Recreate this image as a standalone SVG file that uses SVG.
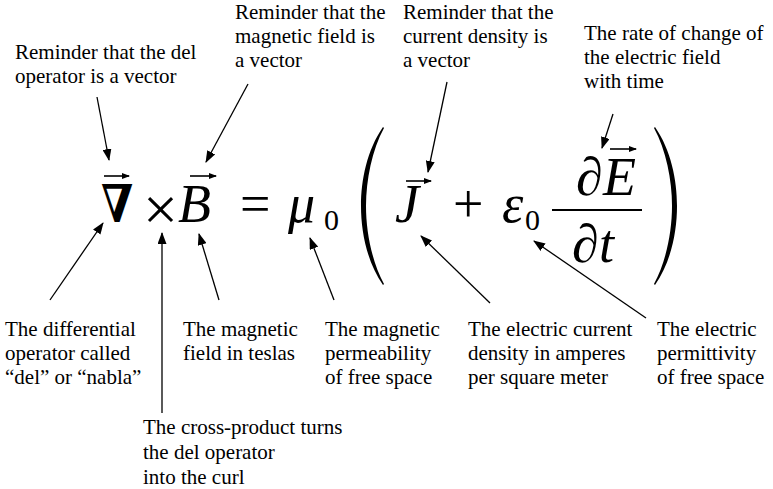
<svg xmlns="http://www.w3.org/2000/svg" width="773" height="489" viewBox="0 0 773 489">
<defs>
<style>
.lbl{font-family:"Liberation Serif","Times New Roman","DejaVu Serif",serif;font-size:21px;fill:#000}
.m{font-family:"Liberation Serif","DejaVu Serif",serif;font-size:54px;fill:#000}
.i{font-style:italic}
.sub{font-size:30px}
.conn{stroke:#000;stroke-width:1.3;fill:none;marker-end:url(#ah)}
.vec{stroke:#000;stroke-width:1.6;fill:none;marker-end:url(#va)}
.bar{stroke:#000;stroke-width:1.8}
</style>
<marker id="ah" viewBox="0 0 12 9" refX="11" refY="4.5" markerWidth="12" markerHeight="9" markerUnits="userSpaceOnUse" orient="auto"><path d="M0,0 L12,4.5 L0,9 z"/></marker>
<marker id="va" viewBox="0 0 8 6" refX="7" refY="3" markerWidth="8" markerHeight="6" markerUnits="userSpaceOnUse" orient="auto"><path d="M0,0 L8,3 L0,6 z"/></marker>
</defs>
<rect width="773" height="489" fill="#fff"/>
<g id="equation">
<text transform="translate(101,222) scale(0.82,1)" style="font-family:'DejaVu Serif',serif;font-size:52px;font-weight:bold">∇</text>
<text class="m" x="143" y="230" style="font-size:62px">×</text>
<text class="m i" x="178" y="222">B</text>
<text class="m" x="240" y="222">=</text>
<text class="m i" x="288" y="222">μ</text>
<text class="m sub" x="324" y="230">0</text>
<path d="M383,127 C367,150 361,180 361,206 C361,232 367,262 383,285 L384,284 C372,262 366,232 366,206 C366,180 372,150 384,128 Z"/>
<text class="m i" x="395" y="222">J</text>
<text class="m" x="453" y="222">+</text>
<text class="m i" x="502" y="222">ε</text>
<text class="m sub" x="525" y="230">0</text>
<line class="bar" x1="552" y1="210" x2="642" y2="210"/>
<text class="m" x="576" y="195">∂</text>
<text class="m i" x="603" y="195">E</text>
<text class="m" x="572" y="262">∂</text>
<text class="m i" x="599" y="262">t</text>
<path d="M655,127 C671,150 677,180 677,206 C677,232 671,262 655,285 L654,284 C666,262 672,232 672,206 C672,180 666,150 654,128 Z"/>
<path class="vec" d="M104,176 H129"/>
<path class="vec" d="M190,176 H216"/>
<path class="vec" d="M406,181 H431"/>
<path class="vec" d="M610,149 H636"/>
</g>
<g id="connectors">
<path class="conn" d="M97,97 L109,160"/>
<path class="conn" d="M248,84 L206,162"/>
<path class="conn" d="M447,82 L428,172"/>
<path class="conn" d="M613,114 L602,148"/>
<path class="conn" d="M50,300 L103,223"/>
<path class="conn" d="M162,413 L162,233"/>
<path class="conn" d="M219,300 L199,234"/>
<path class="conn" d="M334,300 L310,238"/>
<path class="conn" d="M490,303 L421,236"/>
<path class="conn" d="M646,318 L534,241"/>
</g>
<g id="label-del-vector">
<text class="lbl" x="15" y="59">Reminder that the del</text>
<text class="lbl" x="15" y="83">operator is a vector</text>
</g>
<g id="label-b-vector">
<text class="lbl" x="235" y="19">Reminder that the</text>
<text class="lbl" x="235" y="43">magnetic field is</text>
<text class="lbl" x="235" y="67">a vector</text>
</g>
<g id="label-j-vector">
<text class="lbl" x="403" y="19">Reminder that the</text>
<text class="lbl" x="403" y="43">current density is</text>
<text class="lbl" x="403" y="67">a vector</text>
</g>
<g id="label-rate">
<text class="lbl" x="584" y="40">The rate of change of</text>
<text class="lbl" x="584" y="64">the electric field</text>
<text class="lbl" x="584" y="88">with time</text>
</g>
<g id="label-del">
<text class="lbl" x="5" y="336">The differential</text>
<text class="lbl" x="5" y="360">operator called</text>
<text class="lbl" x="5" y="384">“del” or “nabla”</text>
</g>
<g id="label-field">
<text class="lbl" x="183" y="336">The magnetic</text>
<text class="lbl" x="183" y="360">field in teslas</text>
</g>
<g id="label-mu">
<text class="lbl" x="325" y="336">The magnetic</text>
<text class="lbl" x="325" y="360">permeability</text>
<text class="lbl" x="325" y="384">of free space</text>
</g>
<g id="label-current">
<text class="lbl" x="468" y="336">The electric current</text>
<text class="lbl" x="468" y="360">density in amperes</text>
<text class="lbl" x="468" y="384">per square meter</text>
</g>
<g id="label-eps">
<text class="lbl" x="657" y="336">The electric</text>
<text class="lbl" x="657" y="360">permittivity</text>
<text class="lbl" x="657" y="384">of free space</text>
</g>
<g id="label-cross">
<text class="lbl" x="143" y="434">The cross-product turns</text>
<text class="lbl" x="143" y="459">the del operator</text>
<text class="lbl" x="143" y="484">into the curl</text>
</g>
</svg>
